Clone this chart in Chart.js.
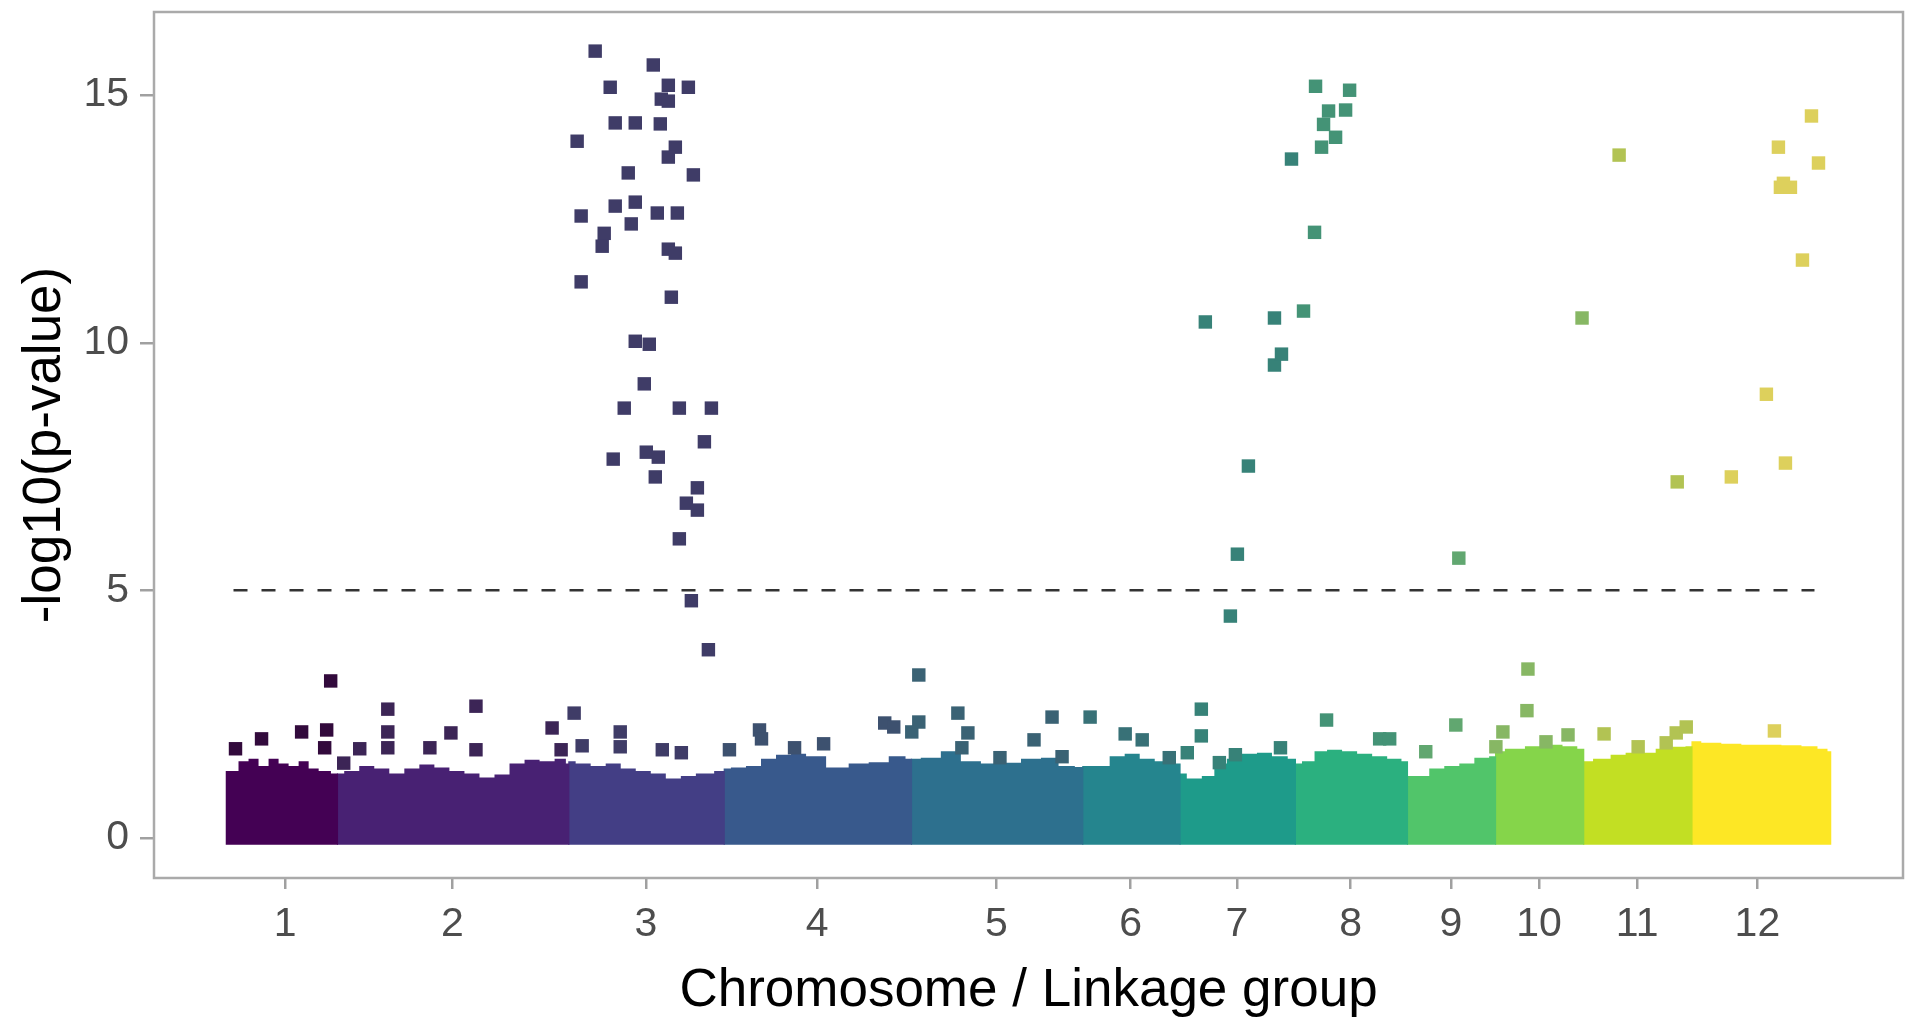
<!DOCTYPE html>
<html><head><meta charset="utf-8">
<script src="https://cdn.jsdelivr.net/npm/chart.js@4.4.1/dist/chart.umd.min.js"></script>
<style>html,body{margin:0;padding:0;background:#fff;}canvas{display:block;}</style>
</head><body>
<canvas id="c" width="1915" height="1021"></canvas>
<script>
// ---- data ----
const chromosomes = ['1','2','3','4','5','6','7','8','9','10','11','12'];
const chrLengthMb = [20.6, 46.2, 31.0, 37.4, 34.2, 19.4, 23.0, 22.4, 17.6, 17.6, 21.6, 26.4];
const chrColors = ['#440154','#482173','#433E85','#38598C','#2D708E','#25858E','#1E9B8A','#2BB07F','#51C56A','#85D54A','#C2DF23','#FDE725'];
const yTicks = [0, 5, 10, 15];
const threshold = 5;
const thresholdSpanMb = [0, 315.6];

// top of the dense cloud of non-significant SNPs, [position Mb, -log10 p]
const massTop1 = [[-1.6,1.35],[0,1.35],[2,1.55],[4,1.6],[6,1.45],[8,1.6],[10,1.5],[12,1.45],[14,1.55],[16,1.4],[18,1.35],[20.6,1.3]];
const massTop2 = [[0,1.3],[3,1.35],[6,1.45],[9,1.4],[12,1.3],[15,1.4],[18,1.48],[21,1.42],[24,1.35],[27,1.3],[30,1.22],[33,1.28],[36,1.5],[39,1.58],[42,1.55],[45,1.6],[46.2,1.5]];
const massTop3 = [[0,1.55],[3,1.5],[6,1.45],[9,1.5],[12,1.4],[15,1.35],[18,1.3],[21,1.2],[24,1.25],[27,1.3],[31,1.35]];
const massTop4 = [[0,1.4],[3,1.42],[6,1.45],[9,1.6],[12,1.68],[15,1.7],[18,1.65],[23,1.42],[27,1.5],[31,1.53],[35,1.65],[37.4,1.6]];
const massTop5 = [[0,1.6],[4,1.62],[8,1.75],[12,1.55],[16,1.5],[20,1.52],[24,1.6],[28,1.62],[31,1.45],[34.2,1.43]];
const massTop6 = [[0,1.45],[4,1.45],[7,1.65],[10,1.7],[13,1.6],[16,1.55],[19.4,1.5]];
const massTop7 = [[0,1.3],[3,1.2],[6,1.25],[8,1.5],[11,1.6],[14,1.7],[17,1.72],[20,1.65],[23,1.6]];
const massTop8 = [[0,1.5],[3,1.55],[5,1.75],[8,1.78],[11,1.75],[14,1.7],[17,1.65],[20,1.6],[22.4,1.55]];
const massTop9 = [[0,1.25],[3,1.25],[6,1.4],[9,1.45],[12,1.5],[15,1.62],[17.6,1.65]];
const massTop10 = [[0,1.75],[4,1.8],[8,1.85],[12,1.88],[15,1.85],[17.6,1.8]];
const massTop11 = [[0,1.55],[4,1.6],[7,1.68],[10,1.72],[13,1.72],[16,1.8],[19,1.84],[21.6,1.85]];
const massTop12 = [[0,1.95],[4,1.92],[8,1.9],[12,1.88],[16,1.88],[20,1.87],[24,1.85],[26.4,1.8],[28.0,1.75]];

// individually visible SNPs, [position Mb, -log10 p]
const snps1 = [[0.4,1.80],[5.6,2.0],[13.6,2.14],[18.6,2.18],[18.2,1.82],[19.4,3.17]];
const snps2 = [[1.4,1.51],[4.6,1.80],[10.2,2.60],[10.2,2.14],[10.2,1.82],[18.6,1.82],[22.8,2.12],[27.8,2.66],[27.8,1.78],[43.0,2.22],[44.8,1.78]];
const snps3 = [[1.2,2.52],[2.8,1.86],[10.4,2.14],[10.4,1.84],[18.8,1.78],[22.6,1.72],
  [5.4,15.89],[17.0,15.61],[8.4,15.16],[20.0,15.20],[24.0,15.16],[18.6,14.92],[20.0,14.88],[9.4,14.44],[13.4,14.44],[18.4,14.42],
  [1.8,14.07],[21.4,13.95],[20.0,13.75],[12.0,13.43],[25.0,13.39],[9.4,12.76],[13.4,12.84],[2.6,12.56],[17.8,12.62],[21.8,12.62],
  [12.6,12.40],[7.2,12.21],[6.8,11.95],[20.0,11.89],[21.4,11.81],[2.6,11.23],[20.6,10.92],[13.4,10.03],[16.2,9.97],[15.2,9.17],
  [11.2,8.68],[22.2,8.68],[28.6,8.68],[27.2,8.00],[9.0,7.65],[15.6,7.79],[18.0,7.69],[17.4,7.29],[25.8,7.07],[23.6,6.76],
  [25.8,6.62],[22.2,6.04],[24.6,4.79],[28.0,3.80]];
const snps4 = [[1.2,1.78],[7.2,2.18],[7.6,2.0],[14.2,1.82],[20.0,1.90],[32.2,2.32],[34.0,2.24]];
const snps5 = [[0.2,2.14],[1.6,3.29],[1.6,2.34],[9.4,2.52],[10.2,1.82],[11.4,2.12],[17.8,1.62],[24.6,1.98],[28.2,2.44],[30.2,1.64]];
const snps6 = [[1.6,2.44],[8.6,2.10],[12.0,1.98],[17.4,1.62]];
const snps7 = [[1.6,1.72],[4.4,2.60],[4.4,2.06],[8.0,1.52],[11.2,1.68],[20.2,1.82],[5.2,10.42],[10.2,4.48],[11.6,5.73],[13.8,7.51],[19.0,10.50],[19.0,9.55],[20.4,9.77],[22.4,13.71]];
const snps8 = [[1.8,10.64],[4.0,12.23],[4.2,15.18],[11.0,15.10],[6.8,14.68],[10.2,14.70],[5.8,14.41],[8.2,14.15],[5.4,13.95],[6.4,2.38],[17.0,2.0],[19.0,2.0]];
const snps9 = [[3.8,1.74],[9.8,2.28],[10.4,5.65]];
const snps10 = [[0.2,1.84],[1.6,2.14],[6.6,3.41],[6.4,2.57],[10.2,1.94],[14.6,2.08],[17.4,10.50]];
const snps11 = [[4.2,2.10],[7.2,13.79],[11.0,1.84],[16.6,1.92],[18.6,2.12],[20.6,2.24],[18.8,7.19]];
const snps12 = [[8.0,7.29],[15.0,8.96],[18.8,7.57],[24.0,14.58],[17.4,13.95],[25.4,13.63],[17.8,13.14],[19.8,13.14],[18.4,13.22],[22.2,11.67],[16.6,2.16]];

// ---- build chart ----
const massSets = [massTop1,massTop2,massTop3,massTop4,massTop5,massTop6,massTop7,massTop8,massTop9,massTop10,massTop11,massTop12];
const snpSets = [snps1,snps2,snps3,snps4,snps5,snps6,snps7,snps8,snps9,snps10,snps11,snps12];
const offsets = []; let acc = 0;
chrLengthMb.forEach(l => { offsets.push(acc); acc += l; });
const genomeLen = acc;
const mids = chrLengthMb.map((l, i) => offsets[i] + l / 2);
const seamOverlap = 0.3; // tiny overlap so neighbouring fills leave no anti-aliasing seam

function muted(hex) {
  const r = parseInt(hex.slice(1,3),16), g = parseInt(hex.slice(3,5),16), b = parseInt(hex.slice(5,7),16);
  const l = 0.299*r + 0.587*g + 0.114*b;
  const f = c => Math.round((c + (l - c) * 0.35) * 0.92);
  return `rgb(${f(r)},${f(g)},${f(b)})`;
}

const datasets = [];
snpSets.forEach((s, i) => datasets.push({
  type: 'scatter', order: 1,
  data: s.map(([p, v]) => ({x: offsets[i] + p, y: v})),
  pointStyle: 'rect', pointRadius: 9.5, pointHoverRadius: 9.5, borderWidth: 0,
  backgroundColor: muted(chrColors[i])
}));
massSets.forEach((m, i) => datasets.push({
  type: 'line', order: 3,
  data: m.map(([p, v], k) => ({x: offsets[i] + p + (k === m.length - 1 && i < massSets.length - 1 ? seamOverlap : 0), y: v})),
  showLine: true, stepped: 'middle', borderWidth: 0, borderColor: chrColors[i],
  backgroundColor: chrColors[i], pointRadius: 0, fill: {value: -0.14}
}));
datasets.push({
  type: 'line', order: 0,
  data: thresholdSpanMb.map(x => ({x, y: threshold})),
  borderColor: '#333333', borderWidth: 2.5, borderDash: [14, 14], pointRadius: 0, fill: false
});

const frame = {
  id: 'frame',
  afterDraw(chart) {
    const {ctx, chartArea: a} = chart;
    ctx.save(); ctx.strokeStyle = '#aaaaaa'; ctx.lineWidth = 2.5;
    ctx.strokeRect(a.left, a.top, a.right - a.left, a.bottom - a.top);
    ctx.restore();
  }
};

const font = 'Liberation Sans, Arial, Helvetica, sans-serif';
new Chart(document.getElementById('c'), {
  type: 'scatter',
  data: {datasets},
  plugins: [frame],
  options: {
    responsive: false, animation: false, devicePixelRatio: 1,
    layout: {padding: {left: 0, top: 12, right: 12, bottom: 0}},
    plugins: {legend: {display: false}, tooltip: {enabled: false}},
    scales: {
      x: {
        type: 'linear', min: -0.05 * genomeLen, max: 1.05 * genomeLen,
        afterBuildTicks: s => { s.ticks = mids.map(v => ({value: v})); },
        afterFit: s => { s.height = 143; s.paddingLeft = 0; s.paddingRight = 0; },
        border: {display: false},
        grid: {display: true, drawOnChartArea: false, drawTicks: true, tickLength: 11, color: '#a0a0a0', lineWidth: 2.5},
        ticks: {autoSkip: false, maxRotation: 0, padding: 11, color: '#4d4d4d', font: {family: font, size: 41},
          callback: (v, i) => chromosomes[i]},
        title: {display: true, text: 'Chromosome / Linkage group', color: '#000', font: {family: font, size: 53}, padding: {top: 0, bottom: -2}}
      },
      y: {
        type: 'linear', min: -0.81, max: 16.68,
        afterBuildTicks: s => { s.ticks = yTicks.map(v => ({value: v})); },
        afterFit: s => { s.width = 154; s.paddingTop = 0; s.paddingBottom = 0; },
        border: {display: false},
        grid: {display: true, drawOnChartArea: false, drawTicks: true, tickLength: 14, color: '#a0a0a0', lineWidth: 2.5},
        ticks: {padding: 11, color: '#4d4d4d', font: {family: font, size: 41}},
        title: {display: true, text: '-log10(p-value)', color: '#000', font: {family: font, size: 53}, padding: {top: 14, bottom: 0}}
      }
    }
  }
});
</script>
</body></html>
